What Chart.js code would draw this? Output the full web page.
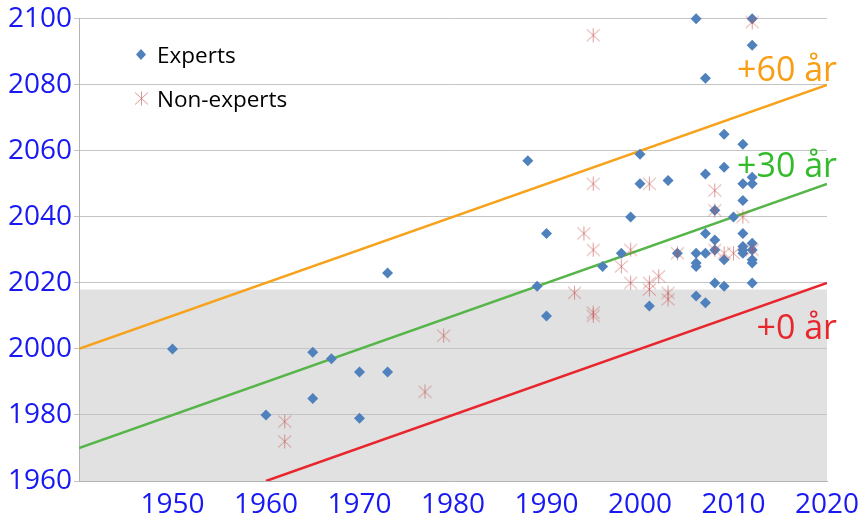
<!DOCTYPE html>
<html>
<head>
<meta charset="utf-8">
<script src="https://cdn.jsdelivr.net/npm/chart.js@4"></script>
<style>
  html, body { margin: 0; padding: 0; background: #fff; }
  canvas { display: block; }
</style>
</head>
<body>
<canvas id="chart" width="860" height="516"></canvas>
<script>
// x = year of prediction, y = predicted year
const expertYear = [1950, 1960, 1965, 1965, 1967, 1970, 1970, 1973, 1973,
    1988, 1989, 1990, 1990, 1996, 1998, 1999, 2000, 2000, 2001, 2003, 2004,
    2006, 2006, 2006, 2006, 2006,
    2007, 2007, 2007, 2007, 2007,
    2008, 2008, 2008, 2008,
    2009, 2009, 2009, 2009,
    2010,
    2011, 2011, 2011, 2011, 2011, 2011, 2011,
    2012, 2012, 2012, 2012, 2012, 2012, 2012, 2012, 2012]
const expertPred = [2000, 1980, 1985, 1999, 1997, 1993, 1979, 1993, 2023,
    2057, 2019, 2035, 2010, 2025, 2029, 2040, 2059, 2050, 2013, 2051, 2029,
    2100, 2029, 2026, 2025, 2016,
    2082, 2053, 2035, 2029, 2014,
    2042, 2033, 2030, 2020,
    2065, 2055, 2027, 2019,
    2040,
    2062, 2050, 2045, 2035, 2031, 2030, 2029,
    2100, 2092, 2052, 2050, 2032, 2030, 2027, 2026, 2020]

const nonExpertYear = [1962, 1962, 1977, 1979, 1993, 1994, 1995, 1995, 1995, 1995, 1995,
    1998, 1999, 1999, 2001, 2001, 2001, 2002, 2003, 2003, 2004,
    2008, 2008, 2008, 2009, 2010, 2011, 2012, 2012]
const nonExpertPred = [1978, 1972, 1987, 2004, 2017, 2035, 2095, 2050, 2030, 2011, 2010,
    2025, 2030, 2020, 2050, 2020, 2018, 2022, 2017, 2015, 2029,
    2048, 2042, 2030, 2029, 2029, 2040, 2030, 2099]

const seriesNames = ['Experts', 'Non-experts']

// guide lines: prediction = year + offset
const guideNames = ['+60 år', '+30 år', '+0 år']
const guideStart = [1940, 1940, 1960]
const guideEnd = [2020, 2020, 2020]
const guideOffset = [60, 30, 0]

const xTicks = [1950, 1960, 1970, 1980, 1990, 2000, 2010, 2020]
const yTicks = [1960, 1980, 2000, 2020, 2040, 2060, 2080, 2100]
const bandTop = 2018

const guideColors = ['#f7a21b', '#55b548', '#e8262e']
const guideTextColors = ['#f99d12', '#33bb2c', '#e8262e']
const guideTextDy = [-4, -7, 56]
const tickBlue = '#1818f2'
const starColor = 'rgba(196, 84, 80, 0.6)'
const diamondColor = '#4f81bd'
const FONT = '"Open Sans", "Noto Sans", sans-serif'

function toPoints(xs, ys) {
    return xs.map((x, i) => ({ x: x, y: ys[i] }))
}

function makeStar(size, color) {
    const c = document.createElement('canvas')
    c.width = size
    c.height = size
    const g = c.getContext('2d')
    g.strokeStyle = color
    g.lineWidth = 1
    const m = size / 2
    g.beginPath()
    g.moveTo(m, 0.5); g.lineTo(m, size - 0.5)
    g.moveTo(1, 1.5); g.lineTo(size - 1, size - 1.5)
    g.moveTo(size - 1, 1.5); g.lineTo(1, size - 1.5)
    g.stroke()
    return c
}

const star = makeStar(15, starColor)

const bandPlugin = {
    id: 'band',
    beforeDraw(chart) {
        const { ctx, chartArea, scales } = chart
        const top = scales.y.getPixelForValue(bandTop)
        ctx.save()
        ctx.fillStyle = '#e1e1e1'
        ctx.fillRect(chartArea.left, top, chartArea.right - chartArea.left, chartArea.bottom - top)
        ctx.restore()
    }
}

const guideLabelPlugin = {
    id: 'guideLabels',
    afterDatasetsDraw(chart) {
        const { ctx, scales } = chart
        ctx.save()
        ctx.font = '34px ' + FONT
        ctx.textAlign = 'right'
        ctx.textBaseline = 'alphabetic'
        guideNames.forEach((name, i) => {
            const end = guideEnd[i]
            const px = scales.x.getPixelForValue(end) + 10
            const py = scales.y.getPixelForValue(end + guideOffset[i]) + guideTextDy[i]
            ctx.fillStyle = guideTextColors[i]
            ctx.fillText(name, px, py)
        })
        ctx.restore()
    }
}

const legendPlugin = {
    id: 'insideLegend',
    afterDraw(chart) {
        const ctx = chart.ctx
        ctx.save()
        ctx.font = '22.5px ' + FONT
        ctx.textBaseline = 'alphabetic'

        ctx.fillStyle = diamondColor
        ctx.beginPath()
        ctx.moveTo(141, 49); ctx.lineTo(146, 54.5); ctx.lineTo(141, 60); ctx.lineTo(136, 54.5)
        ctx.closePath()
        ctx.fill()
        ctx.fillStyle = '#000'
        ctx.fillText(seriesNames[0], 157, 63)

        ctx.drawImage(star, 134, 91)
        ctx.fillText(seriesNames[1], 157, 107)
        ctx.restore()
    }
}

new Chart(document.getElementById('chart'), {
    type: 'scatter',
    data: {
        datasets: [
            {
                label: seriesNames[1],
                data: toPoints(nonExpertYear, nonExpertPred),
                pointStyle: star,
                clip: 12,
                order: 0
            },
            {
                label: seriesNames[0],
                data: toPoints(expertYear, expertPred),
                pointStyle: 'rectRot',
                pointRadius: 5.5,
                pointBackgroundColor: diamondColor,
                pointBorderColor: diamondColor,
                pointBorderWidth: 0,
                clip: 12,
                order: 1
            },
            ...guideNames.map((name, i) => ({
                type: 'line',
                label: name,
                data: [
                    { x: guideStart[i], y: guideStart[i] + guideOffset[i] },
                    { x: guideEnd[i], y: guideEnd[i] + guideOffset[i] }
                ],
                borderColor: guideColors[i],
                borderWidth: 2.5,
                pointRadius: 0,
                showLine: true,
                fill: false,
                order: 2 + i
            }))
        ]
    },
    options: {
        responsive: false,
        animation: false,
        devicePixelRatio: 1,
        layout: { padding: { left: 0, top: 16, right: 33, bottom: 0 } },
        plugins: {
            legend: { display: false },
            tooltip: { enabled: false }
        },
        scales: {
            x: {
                type: 'linear',
                min: 1940,
                max: 2020,
                afterBuildTicks: axis => { axis.ticks = [1940, ...xTicks].map(v => ({ value: v })) },
                afterFit: axis => {
                    axis.height = 35
                    axis.paddingRight = 0
                    axis.paddingLeft = 0
                },
                ticks: {
                    autoSkip: false,
                    maxRotation: 0,
                    padding: 7,
                    color: tickBlue,
                    font: { family: FONT, size: 28 },
                    callback: v => (xTicks.includes(v) ? String(v) : '')
                },
                grid: { display: false, drawTicks: false },
                border: { display: true, color: '#b4b4b4', width: 1 }
            },
            y: {
                min: 1960,
                max: 2100,
                afterBuildTicks: axis => { axis.ticks = yTicks.map(v => ({ value: v })) },
                afterFit: axis => { axis.width = 79 },
                ticks: {
                    padding: 2,
                    color: tickBlue,
                    font: { family: FONT, size: 28 },
                    callback: v => String(v)
                },
                grid: { color: '#c4c4c4', lineWidth: 1, tickLength: 5 },
                border: { display: true, color: '#b4b4b4', width: 1 }
            }
        }
    },
    plugins: [bandPlugin, guideLabelPlugin, legendPlugin]
})
</script>
</body>
</html>
